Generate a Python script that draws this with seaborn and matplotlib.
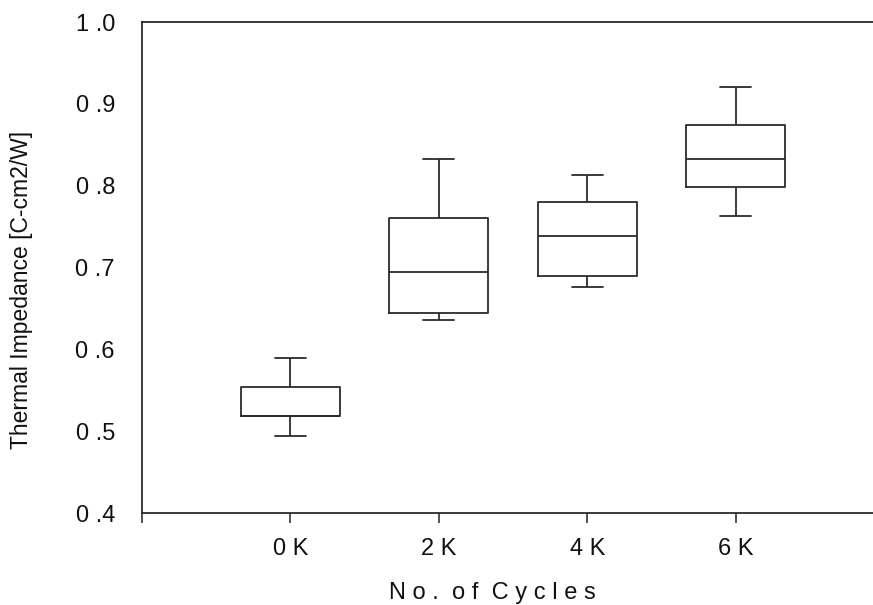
import numpy as np
import pandas as pd
import seaborn as sns
import matplotlib
matplotlib.use("Agg")
import matplotlib.pyplot as plt

# Five-number summaries (min, Q1, median, Q3, max) of thermal impedance per cycle count
categories = ["0 K", "2 K", "4 K", "6 K"]
imp_0k = [0.494, 0.519, 0.519, 0.554, 0.589]
imp_2k = [0.636, 0.645, 0.695, 0.760, 0.833]
imp_4k = [0.676, 0.690, 0.739, 0.780, 0.813]
imp_6k = [0.763, 0.798, 0.833, 0.874, 0.920]

y_ticks = [0.4, 0.5, 0.6, 0.7, 0.8, 0.9, 1.0]
y_tick_labels = ["0 .4", "0 .5", "0 .6", "0 .7", "0 .8", "0 .9", "1 .0"]

df = pd.DataFrame({
    "cycles": np.repeat(categories, 5),
    "impedance": imp_0k + imp_2k + imp_4k + imp_6k,
})

sns.set_theme(style="white")
plt.rcParams["font.family"] = ["Liberation Sans", "DejaVu Sans"]

fig = plt.figure(figsize=(8.73, 6.05), dpi=100)
ax = fig.add_axes([0.1627, 0.152, 1 - 0.1627, 0.8116])

line_kw = dict(color="#2b2b2b", linewidth=1.3)
sns.boxplot(
    data=df, x="cycles", y="impedance", order=categories, ax=ax,
    whis=(0, 100), width=0.665, fill=False, color="#2b2b2b", linewidth=1.3,
    showcaps=True,
    boxprops=line_kw, whiskerprops=line_kw, capprops=line_kw, medianprops=line_kw,
    flierprops=dict(marker=""),
)
# caps are narrower than the box; medians keep the full box width
for ln in ax.lines:
    xd = ln.get_xdata()
    yd = ln.get_ydata()
    if len(xd) == 2 and yd[0] == yd[1] and 0.01 < abs(xd[1] - xd[0]) < 0.5:
        c = (xd[0] + xd[1]) / 2
        ln.set_xdata([c - 0.105, c + 0.105])

ax.set_xlim(-1, 3.926)
ax.set_ylim(0.4, 1.0)

ax.set_xticks([-1, 0, 1, 2, 3])
ax.set_xticklabels([""] + categories, fontsize=17)
ax.set_yticks(y_ticks)
ax.set_yticklabels(y_tick_labels, fontsize=17)

ax.tick_params(axis="x", direction="out", length=7, width=1.2, color="#333333",
               pad=11, bottom=True, labelcolor="#111111")
ax.tick_params(axis="y", length=0, pad=19.5, labelcolor="#111111")

for side in ["left", "top", "bottom"]:
    ax.spines[side].set_visible(True)
    ax.spines[side].set_color("#2b2b2b")
    ax.spines[side].set_linewidth(1.3)
ax.spines["right"].set_visible(False)

ax.set_xlabel("N o .  o f  C y c l e s", fontsize=17, color="#111111")
ax.set_ylabel("Thermal Impedance [C-cm2/W]", fontsize=16.5, color="#111111")
ax.xaxis.set_label_coords(0.479, -0.1405)
ax.yaxis.set_label_coords(-0.149, 0.454)

fig.savefig("out.png", dpi=100)
